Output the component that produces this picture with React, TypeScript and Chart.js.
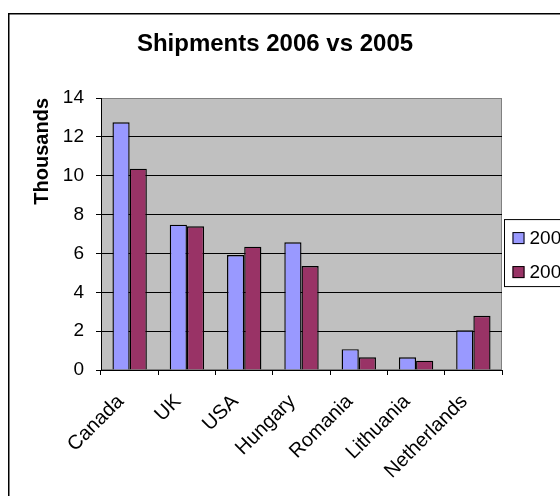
import React, { useEffect, useRef } from 'react';
import { Chart, registerables } from 'chart.js';

Chart.register(...registerables);

const categories = ['Canada', 'UK', 'USA', 'Hungary', 'Romania', 'Lithuania', 'Netherlands'];
const seriesNames = ['2006', '2005'];
const values2006 = [12.75, 7.48, 5.92, 6.57, 1.07, 0.65, 2.04];
const values2005 = [10.36, 7.4, 6.35, 5.35, 0.65, 0.48, 2.79];
const yTicks = [0, 2, 4, 6, 8, 10, 12, 14];
const titleText = 'Shipments 2006 vs 2005';
const yTitleText = 'Thousands';
const seriesColors = ['#9999FF', '#993366'];

const FONT = '"Liberation Sans", Arial, sans-serif';

const backgroundPlugin = {
  id: 'excelBackground',
  beforeDraw(chart: any) {
    const ctx = chart.ctx;
    const { left, top, right, bottom } = chart.chartArea;
    ctx.save();
    ctx.fillStyle = '#ffffff';
    ctx.fillRect(0, 0, chart.width, chart.height);
    // outer chart border (left and top visible)
    ctx.strokeStyle = '#000000';
    ctx.lineWidth = 1.5;
    ctx.beginPath();
    ctx.moveTo(8.75, chart.height + 5);
    ctx.lineTo(8.75, 13.75);
    ctx.lineTo(chart.width + 5, 13.75);
    ctx.stroke();
    // plot area
    ctx.fillStyle = '#C0C0C0';
    ctx.fillRect(left, top, right - left, bottom - top);
    ctx.strokeStyle = '#808080';
    ctx.lineWidth = 1;
    ctx.strokeRect(left + 0.5, top + 0.5, right - left - 1, bottom - top - 1);
    ctx.restore();
  },
};

const legendPlugin = {
  id: 'excelLegend',
  afterDraw(chart: any) {
    const ctx = chart.ctx;
    const { right, top, bottom } = chart.chartArea;
    const boxX = right + 2.5;
    const boxY = top + (bottom - top) * 0.447;
    const rowH = 34;
    ctx.save();
    ctx.fillStyle = '#ffffff';
    ctx.strokeStyle = '#000000';
    ctx.lineWidth = 1;
    ctx.fillRect(boxX, boxY, 120, 67);
    ctx.strokeRect(boxX, boxY, 120, 67);
    ctx.font = `19px ${FONT}`;
    ctx.textBaseline = 'middle';
    ctx.textAlign = 'left';
    chart.data.datasets.forEach((ds: any, i: number) => {
      const cy = boxY + 18 + i * rowH;
      ctx.fillStyle = ds.backgroundColor;
      ctx.fillRect(boxX + 8, cy - 5.5, 12, 12);
      ctx.strokeStyle = '#000000';
      ctx.strokeRect(boxX + 8.5, cy - 5, 11, 11);
      ctx.fillStyle = '#000000';
      ctx.fillText(ds.label, boxX + 25, cy + 1);
    });
    ctx.restore();
  },
};

export default function App() {
  const canvasRef = useRef<HTMLCanvasElement | null>(null);

  useEffect(() => {
    document.body.style.margin = '0';
    document.body.style.overflow = 'hidden';
    const canvas = canvasRef.current;
    if (!canvas) return;
    const chart = new Chart(canvas, {
      type: 'bar',
      data: {
        labels: categories,
        datasets: [
          {
            label: seriesNames[0],
            data: values2006,
            backgroundColor: seriesColors[0],
            borderColor: '#000000',
            borderWidth: 1.4,
            barPercentage: 1,
            categoryPercentage: 0.6,
          },
          {
            label: seriesNames[1],
            data: values2005,
            backgroundColor: seriesColors[1],
            borderColor: '#000000',
            borderWidth: 1.4,
            barPercentage: 1,
            categoryPercentage: 0.6,
          },
        ],
      },
      options: {
        responsive: false,
        animation: false,
        devicePixelRatio: 1,
        layout: { padding: { left: 0, right: 10, top: 0, bottom: 0 } },
        font: { family: FONT },
        plugins: {
          legend: { display: false },
          tooltip: { enabled: false },
          title: {
            display: true,
            text: titleText,
            color: '#000000',
            font: { family: FONT, size: 24, weight: 'bold', lineHeight: 1.2 },
            padding: { top: 30, bottom: 39.2 },
          },
        },
        scales: {
          x: {
            type: 'category',
            ticks: {
              color: '#000000',
              font: { family: FONT, size: 20 },
              minRotation: 45,
              maxRotation: 45,
              autoSkip: false,
              padding: 15,
              labelOffset: -9,
            },
            grid: {
              drawOnChartArea: false,
              drawTicks: true,
              tickLength: 5,
              tickColor: '#000000',
              offset: true,
            },
            border: { color: '#000000', width: 1 },
            afterFit: (s: any) => {
              s.height = 126;
            },
          },
          y: {
            min: 0,
            max: 14,
            afterBuildTicks: (s: any) => {
              s.ticks = yTicks.map((v) => ({ value: v }));
            },
            ticks: {
              color: '#000000',
              font: { family: FONT, size: 19 },
              padding: 12,
            },
            grid: {
              color: (c: any) => (c.tick && c.tick.value === 14 ? '#808080' : '#000000'),
              tickColor: '#000000',
              tickLength: 5,
              lineWidth: 1,
            },
            border: { color: '#000000', width: 1 },
            title: {
              display: true,
              text: yTitleText,
              align: 'end',
              color: '#000000',
              font: { family: FONT, size: 20, weight: 'bold', lineHeight: 1.2 },
              padding: { top: 30, bottom: 0 },
            },
            afterFit: (s: any) => {
              s.width = 101;
            },
          },
          yRight: {
            position: 'right',
            display: true,
            grid: { display: false, drawTicks: false },
            ticks: { display: false },
            border: { display: false },
            afterFit: (s: any) => {
              s.width = 48;
            },
          },
        },
      },
      plugins: [backgroundPlugin, legendPlugin],
    } as any);
    return () => {
      chart.destroy();
    };
  }, []);

  return (
    <div style={{ position: 'fixed', left: 0, top: 0, width: 560, height: 496, overflow: 'hidden' }}>
      <canvas ref={canvasRef} width={560} height={496} style={{ display: 'block' }} />
    </div>
  );
}
